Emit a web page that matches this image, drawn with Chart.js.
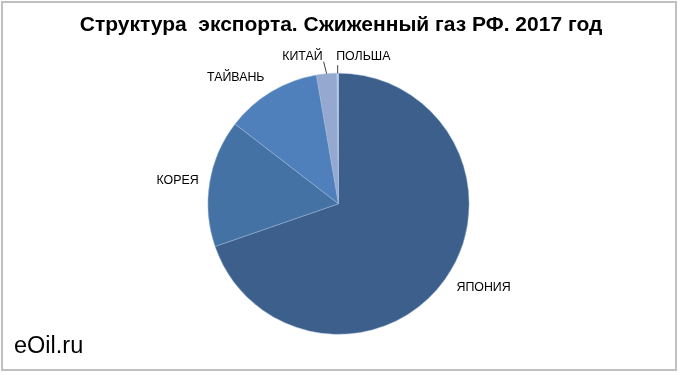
<!DOCTYPE html>
<html lang="ru">
  <head>
    <meta charset="UTF-8" />
    <title>Структура экспорта СПГ</title>
    <script src="https://cdn.jsdelivr.net/npm/chart.js"></script>
    <style>
      html, body { margin: 0; padding: 0; background: #fff; }
      #wrap {
        position: absolute; left: 0; top: 0; width: 680px; height: 375px;
      }
      #frame {
        position: absolute; left: 1px; top: 1px; width: 672px; height: 366px;
        border: 2px solid #c0c0c0;
      }
    </style>
  </head>
  <body>
    <div id="wrap">
      <div id="frame"></div>
      <canvas id="chart" width="680" height="375"></canvas>
    </div>

    <script>
      // data (share of export, %)
      const countries = ["ЯПОНИЯ", "КОРЕЯ", "ТАЙВАНЬ", "КИТАЙ", "ПОЛЬША"];
      const shares = [69.7, 15.75, 11.85, 2.5, 0.2];
      const titleText = "Структура  экспорта. Сжиженный газ РФ. 2017 год";

      const colors = ["#3d5f8b", "#4572a5", "#4f80bc", "#95a9d0", "#c4d0e6"];

      // label placement relative to the arc's outer edge at its mid angle
      const labelOffsets = [
        { dx: 38.7, dy: 7.7, align: "center" },
        { dx: -32, dy: -2, align: "center" },
        { dx: -35.4, dy: -13.9, align: "center" },
        { dx: -4, dy: -17, align: "right", line: [-3, -12] },
        { dx: -1.5, dy: -17, align: "left", line: [0, -8] },
      ];

      const decorPlugin = {
        id: "decor",
        afterDatasetsDraw(chart) {
          const ctx = chart.ctx;
          const arcs = chart.getDatasetMeta(0).data;
          ctx.save();
          ctx.fillStyle = "#000";
          ctx.font = "12.4px 'Liberation Sans', Arial, sans-serif";
          ctx.textBaseline = "middle";
          arcs.forEach((arc, i) => {
            const p = arc.getProps(["x", "y", "startAngle", "endAngle", "outerRadius"], true);
            const mid = (p.startAngle + p.endAngle) / 2;
            const ex = p.x + Math.cos(mid) * p.outerRadius;
            const ey = p.y + Math.sin(mid) * p.outerRadius;
            const o = labelOffsets[i];
            if (o.line) {
              ctx.strokeStyle = "#404040";
              ctx.lineWidth = 1;
              ctx.beginPath();
              ctx.moveTo(ex, ey);
              ctx.lineTo(ex + o.line[0], ey + o.line[1]);
              ctx.stroke();
            }
            ctx.textAlign = o.align;
            ctx.fillText(countries[i], ex + o.dx, ey + o.dy);
          });

          ctx.textAlign = "center";
          ctx.font = "bold 21px 'Liberation Sans', Arial, sans-serif";
          ctx.fillText(titleText, 341, 25);

          ctx.textAlign = "left";
          ctx.textBaseline = "alphabetic";
          ctx.font = "23.5px 'Liberation Sans', Arial, sans-serif";
          ctx.fillText("eOil.ru", 14, 353);
          ctx.restore();
        },
      };

      new Chart(document.getElementById("chart"), {
        type: "pie",
        data: {
          labels: countries,
          datasets: [
            {
              data: shares,
              backgroundColor: colors,
              borderColor: "rgba(160,185,220,0.6)",
              borderWidth: 0.8,
            },
          ],
        },
        options: {
          responsive: false,
          animation: false,
          events: [],
          layout: {
            padding: { top: 72.5, bottom: 40, left: 207.5, right: 210.5 },
          },
          plugins: {
            legend: { display: false },
            tooltip: { enabled: false },
            title: { display: false },
          },
        },
        plugins: [decorPlugin],
      });
    </script>
  </body>
</html>
